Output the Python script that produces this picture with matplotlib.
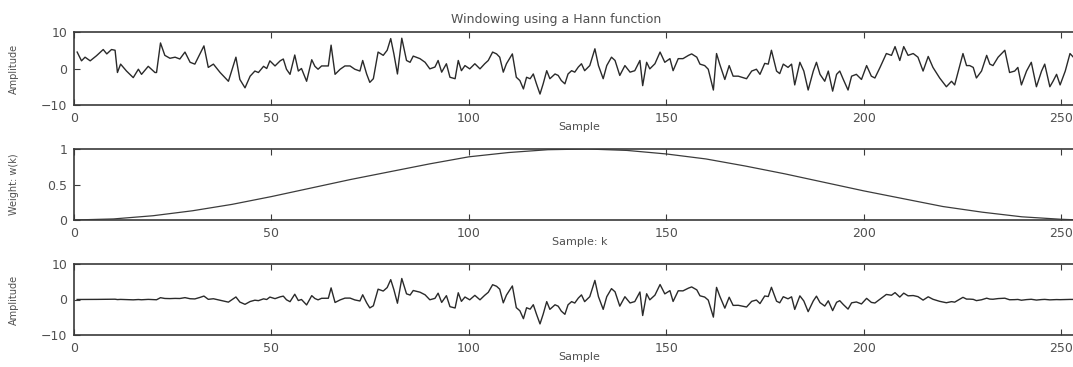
import numpy as np
import matplotlib
matplotlib.use("Agg")
import matplotlib.pyplot as plt
from matplotlib.ticker import FuncFormatter

# ---- data ----
sample = [0.8,1.9,2.8,4.1,5.7,7.4,8.3,9.5,10.4,11.0,11.8,13.3,15.0,16.3,17.1,18.8,20.5,20.9,21.9,23.0,
          24.3,25.6,26.8,28.1,29.4,30.6,31.9,32.9,34.0,35.3,37.0,39.1,41.0,42.0,43.3,44.6,45.8,46.7,48.0,48.8,
          49.6,50.9,52.2,53.0,53.8,54.7,55.9,56.8,57.6,58.9,60.2,61.0,61.8,62.7,64.4,65.1,66.1,67.4,68.6,69.9,
          71.1,72.4,
          73.1,74.1,74.9,75.8,77.0,78.3,79.3,80.2,81.0,81.9,83.0,84.2,85.1,85.9,87.6,88.9,90.1,91.4,92.2,93.1,
          94.3,95.2,96.5,97.3,98.1,99.0,100.2,101.5,102.8,104.0,104.9,106.0,107.0,107.8,108.7,109.5,111.0,112.0,112.9,113.8,
          114.6,115.5,116.3,117.1,118.0,118.8,119.7,120.5,121.8,122.6,123.4,124.3,125.1,126.0,126.8,127.7,128.5,129.3,130.6,131.9,
          132.8,134.0,134.9,136.1,137.0,138.2,139.5,140.8,142.0,143.3,144.0,145.0,145.8,147.1,148.4,149.6,150.9,151.7,153.0,154.2,
          155.6,156.4,157.7,
          158.5,159.7,160.6,161.9,162.7,163.5,164.8,165.9,166.9,168.2,170.3,171.6,172.8,173.7,174.9,175.8,176.6,177.9,178.7,179.6,
          180.8,181.7,182.5,183.8,184.8,185.9,187.2,188.0,188.9,190.1,191.0,192.1,193.1,193.9,194.8,196.0,196.9,198.1,199.4,200.7,
          201.9,202.8,204.1,205.7,207.0,207.9,209.1,210.1,211.2,212.5,213.7,215.0,216.3,217.5,219.2,220.9,222.2,223.0,225.1,226.0,
          226.8,227.7,228.5,229.8,231.1,231.9,232.7,234.0,235.7,236.9,238.2,239.0,239.9,241.2,242.4,243.7,245.0,245.8,247.1,247.9,
          248.8,249.7,251.0,252.2,254.0,256.0]

amplitude = [4.5,2.1,3.1,2.1,3.5,5.2,4.0,5.2,5.0,-1.1,1.2,-0.7,-2.5,-0.2,-1.6,0.6,-1.1,-1.1,7.0,3.6,
             2.8,3.1,2.6,4.5,1.7,1.2,4.0,6.2,0.3,1.2,-1.1,-3.5,3.1,-3.0,-5.3,-2.1,-0.7,-1.1,0.6,0.0,
             2.1,0.7,2.1,2.6,-0.2,-1.6,3.7,-0.7,0.0,-3.5,2.4,0.6,-0.2,0.7,0.7,6.4,-1.6,-0.2,0.7,0.7,
             -0.2,-0.7,
             2.2,-1.5,-3.8,-2.8,4.5,3.6,5.0,8.2,4.0,-1.5,8.3,2.2,1.7,3.4,2.7,1.7,-0.1,0.4,2.2,-1.0,
             1.3,-2.4,-2.8,2.2,-0.6,0.8,-0.1,1.3,-0.1,1.3,2.2,4.5,4.0,3.1,-1.0,1.3,4.0,-2.4,-3.3,-5.6,
             -2.4,-2.8,-1.5,-4.2,-7.0,-4.2,-0.6,-2.8,-1.5,-1.9,-3.3,-4.2,-1.5,-0.6,-1.0,0.4,1.3,-0.6,0.8,5.4,
             0.8,-2.8,0.8,3.1,2.2,-1.9,0.8,-1.0,-0.6,2.2,-4.7,1.7,-0.1,1.3,4.5,1.7,2.7,-0.6,2.7,2.7,
             3.6,4.0,3.1,
             1.2,0.8,-0.2,-5.9,4.1,1.2,-3.0,0.8,-2.1,-2.1,-2.8,-0.7,-0.2,-1.6,1.4,1.2,5.0,-0.7,-1.4,1.2,
             0.3,1.2,-4.5,1.7,-0.7,-5.9,-0.7,1.7,-1.6,-3.5,-0.7,-6.2,-1.6,-0.7,-3.0,-5.9,-2.1,-1.6,-3.0,0.8,
             -2.1,-2.6,0.3,4.1,3.6,6.0,2.2,6.0,3.6,4.1,3.1,-0.7,3.3,0.3,-2.6,-5.0,-3.5,-4.5,4.1,0.8,
             0.8,0.3,-2.6,-0.7,3.6,1.2,0.8,3.1,5.0,-1.1,-0.7,0.3,-4.5,-0.7,1.7,-5.0,-0.7,1.2,-5.0,-3.5,
             -1.6,-4.5,-0.7,4.1,2.0,0.5]

window_k = [0,10,20,30,40,50,60,70,80,90,100,110,120,130,140,150,160,170,180,190,200,210,220,230,240,250,255]
window_w = [0.0,0.015,0.06,0.13,0.22,0.33,0.45,0.57,0.68,0.79,0.89,0.95,0.99,1.0,0.98,0.93,0.86,0.76,0.65,0.53,
            0.41,0.30,0.19,0.11,0.045,0.01,0.0]

title_text = "Windowing using a Hann function"
xticks = [0, 50, 100, 150, 200, 250]

sample = np.array(sample)
amplitude = np.array(amplitude)
# windowed signal = signal x weight
windowed = amplitude * np.interp(sample, window_k, window_w)

# ---- figure ----
W, H = 1073, 367
fig = plt.figure(figsize=(W / 100, H / 100), dpi=100)
fig.patch.set_facecolor("white")
plt.rcParams["font.family"] = ["DejaVu Sans"]

txt = "#505050"
line_c = "#2a2a2a"
spine_c = "#3a3a3a"

def px_axes(top, bottom, left=74, right=1085):
    return [left / W, 1 - bottom / H, (right - left) / W, (bottom - top) / H]

ax1 = fig.add_axes(px_axes(32, 105))
ax2 = fig.add_axes(px_axes(149, 220))
ax3 = fig.add_axes(px_axes(264, 335))

def style(ax):
    ax.set_xlim(0, 256)
    ax.set_xticks(xticks)
    ax.tick_params(direction="in", top=True, right=True, length=4, width=0.8,
                   colors=spine_c, labelcolor=txt, labelsize=9, pad=5)
    for s in ax.spines.values():
        s.set_color(spine_c)
        s.set_linewidth(1.2)

ax1.plot(sample, amplitude, color=line_c, lw=1.0)
ax1.set_ylim(-10, 10)
ax1.set_yticks([-10, 0, 10])
style(ax1)
ax1.set_ylabel("Amplitude", fontsize=7, color=txt)
ax1.yaxis.set_label_coords(-0.054, 0.5)
ax1.set_xlabel("Sample", fontsize=8, color=txt, labelpad=-2)

ax2.plot(window_k, window_w, color="#3c3c3c", lw=0.9)
ax2.set_ylim(0, 1)
ax2.set_yticks([0, 0.5, 1])
ax2.yaxis.set_major_formatter(FuncFormatter(lambda v, p: f"{v:g}"))
style(ax2)
ax2.set_ylabel("Weight: w(k)", fontsize=7, color=txt)
ax2.yaxis.set_label_coords(-0.054, 0.5)
ax2.set_xlabel("Sample: k", fontsize=8, color=txt, labelpad=-2)

ax3.plot(sample, windowed, color=line_c, lw=1.0)
ax3.set_ylim(-10, 10)
ax3.set_yticks([-10, 0, 10])
style(ax3)
ax3.set_ylabel("Amplitude", fontsize=7, color=txt)
ax3.yaxis.set_label_coords(-0.054, 0.5)
ax3.set_xlabel("Sample", fontsize=8, color=txt, labelpad=-2)

fig.text(556 / W, 1 - 19 / H, title_text, ha="center", va="center", fontsize=9, color=txt)

fig.savefig("out.png", dpi=100)
